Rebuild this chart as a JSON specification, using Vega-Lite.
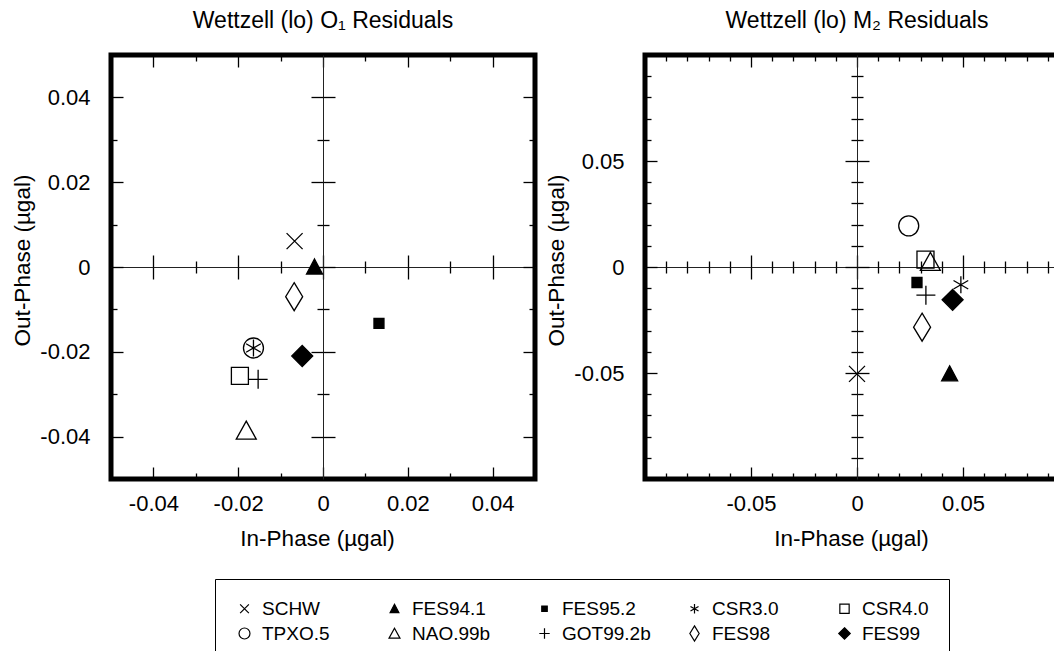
{
  "$schema": "https://vega.github.io/schema/vega-lite/v6.json",
  "padding": {"left": 8, "top": 7, "right": 0, "bottom": 0},
  "spacing": 3,
  "data": {"values": [
    {"panel": "O1", "model": "SCHW", "x": -0.0067, "y": 0.0061},
    {"panel": "O1", "model": "FES94.1", "x": -0.002, "y": 0.0},
    {"panel": "O1", "model": "FES95.2", "x": 0.0132, "y": -0.0133},
    {"panel": "O1", "model": "CSR3.0", "x": -0.0164, "y": -0.0191},
    {"panel": "O1", "model": "CSR4.0", "x": -0.0196, "y": -0.0257},
    {"panel": "O1", "model": "TPXO.5", "x": -0.0164, "y": -0.0191},
    {"panel": "O1", "model": "NAO.99b", "x": -0.0181, "y": -0.0386},
    {"panel": "O1", "model": "GOT99.2b", "x": -0.0153, "y": -0.0265},
    {"panel": "O1", "model": "FES98", "x": -0.0068, "y": -0.007},
    {"panel": "O1", "model": "FES99", "x": -0.0049, "y": -0.021},
    {"panel": "M2", "model": "SCHW", "x": 0.0, "y": -0.0504},
    {"panel": "M2", "model": "FES94.1", "x": 0.0437, "y": -0.0504},
    {"panel": "M2", "model": "FES95.2", "x": 0.0283, "y": -0.0073},
    {"panel": "M2", "model": "CSR3.0", "x": 0.049, "y": -0.0084},
    {"panel": "M2", "model": "CSR4.0", "x": 0.0323, "y": 0.0035},
    {"panel": "M2", "model": "TPXO.5", "x": 0.0244, "y": 0.0194},
    {"panel": "M2", "model": "NAO.99b", "x": 0.0346, "y": 0.0024},
    {"panel": "M2", "model": "GOT99.2b", "x": 0.0325, "y": -0.0133},
    {"panel": "M2", "model": "FES98", "x": 0.0307, "y": -0.0284},
    {"panel": "M2", "model": "FES99", "x": 0.0451, "y": -0.0155}
  ]},
  "resolve": {"scale": {"shape": "shared", "fill": "shared"}, "legend": {"shape": "shared", "fill": "shared"}},
  "hconcat": [
    {
      "width": 424, "height": 424,
      "title": {"text": "Wettzell (lo) O₁ Residuals", "frame": "group", "anchor": "middle", "baseline": "alphabetic", "offset": 3},
      "transform": [{"filter": "datum.panel == 'O1'"}],
      "resolve": {"axis": {"x": "independent", "y": "independent"}},
      "layer": [
        {
          "mark": {"type": "point", "stroke": "black", "strokeWidth": 1.3, "opacity": 1, "size": 400},
          "encoding": {
            "x": {"field": "x", "type": "quantitative", "scale": {"domain": [-0.05, 0.05], "nice": false, "zero": false},
              "axis": {"orient": "bottom", "values": [-0.04, -0.02, 0, 0.02, 0.04], "ticks": false, "tickSize": 0, "domain": false, "labelPadding": 14, "labelFlush": false, "labelOverlap": false,
                "labelExpr": "datum.value == 0 ? '0' : (datum.value < 0 ? '-' : '') + format(abs(datum.value), '.2f')",
                "title": "In-Phase (µgal)", "titleX": 206, "titleY": 66, "titleAlign": "center", "titleBaseline": "alphabetic"}},
            "y": {"field": "y", "type": "quantitative", "scale": {"domain": [-0.05, 0.05], "nice": false, "zero": false},
              "axis": {"orient": "left", "values": [-0.04, -0.02, 0, 0.02, 0.04], "ticks": false, "tickSize": 0, "domain": false, "labelPadding": 21, "labelFlush": false, "labelOverlap": false,
                "labelExpr": "datum.value == 0 ? '0' : (datum.value < 0 ? '-' : '') + format(abs(datum.value), '.2f')",
                "title": "Out-Phase (µgal)", "titleX": -89, "titleY": 205, "titleAngle": 270, "titleAlign": "center", "titleBaseline": "middle"}},
            "stroke": {"value": "black"},
            "shape": {"field": "model", "type": "nominal",
              "scale": {"domain": ["SCHW", "FES94.1", "FES95.2", "CSR3.0", "CSR4.0", "TPXO.5", "NAO.99b", "GOT99.2b", "FES98", "FES99"],
                "range": ["M-0.8,-0.8L0.8,0.8M-0.8,0.8L0.8,-0.8", "M0,-0.8L0.8,0.7L-0.8,0.7Z", "M-0.5,-0.5H0.5V0.5H-0.5Z", "M0,-0.85V0.85M-0.736,-0.425L0.736,0.425M-0.736,0.425L0.736,-0.425", "M-0.85,-0.85H0.85V0.85H-0.85Z", "circle", "M0,-0.95L1,0.85L-1,0.85Z", "M-0.95,0H0.95M0,-0.95V0.95", "M0,-1.4L0.85,0L0,1.4L-0.85,0Z", "M0,-1.05L1.05,0L0,1.05L-1.05,0Z"]},
              "legend": {"orient": "none", "legendX": 104, "legendY": 524, "direction": "horizontal", "columns": 5, "gridAlign": "all", "columnPadding": 34, "rowPadding": 4, "padding": 20, "strokeColor": "black", "labelFontSize": 19, "labelColor": "black", "symbolSize": 120, "symbolStrokeColor": "black", "symbolStrokeWidth": 1.2, "symbolOpacity": 1, "labelOffset": 8, "title": null,
                "symbolType": "circle", "encode": {"symbols": {"update": {"stroke": {"value": "black"}, "strokeWidth": {"value": 1.2}, "opacity": {"value": 1}}}}}},
            "fill": {"field": "model", "type": "nominal",
              "scale": {"domain": ["SCHW", "FES94.1", "FES95.2", "CSR3.0", "CSR4.0", "TPXO.5", "NAO.99b", "GOT99.2b", "FES98", "FES99"],
                "range": ["transparent", "black", "black", "transparent", "transparent", "transparent", "transparent", "transparent", "transparent", "black"]},
              "legend": {"orient": "none", "legendX": 104, "legendY": 524, "direction": "horizontal", "columns": 5, "gridAlign": "all", "columnPadding": 34, "rowPadding": 4, "padding": 20, "strokeColor": "black", "labelFontSize": 19, "labelColor": "black", "symbolSize": 120, "symbolStrokeColor": "black", "symbolStrokeWidth": 1.2, "symbolOpacity": 1, "labelOffset": 8, "title": null,
                "encode": {"symbols": {"update": {"stroke": {"value": "black"}, "strokeWidth": {"value": 1.2}, "opacity": {"value": 1}}}}}}
          }
        },
        {
          "mark": {"type": "point", "opacity": 0},
          "encoding": {
            "x": {"field": "x", "type": "quantitative", "scale": {"domain": [-0.05, 0.05], "nice": false, "zero": false},
              "axis": {"orient": "bottom", "values": [-0.04, -0.03, -0.02, -0.01, 0, 0.01, 0.02, 0.03, 0.04], "labels": false, "domain": false, "title": null,
                "tickSize": {"condition": {"test": "abs(round(datum.value*100)) % 2 == 0", "value": -12}, "value": -6}}},
            "y": {"field": "y", "type": "quantitative", "scale": {"domain": [-0.05, 0.05], "nice": false, "zero": false},
              "axis": {"orient": "left", "values": [-0.04, -0.03, -0.02, -0.01, 0, 0.01, 0.02, 0.03, 0.04], "labels": false, "domain": false, "title": null,
                "tickSize": {"condition": {"test": "abs(round(datum.value*100)) % 2 == 0", "value": -12}, "value": -6}}}
          }
        },
        {
          "mark": {"type": "point", "opacity": 0},
          "encoding": {
            "x": {"field": "x", "type": "quantitative", "scale": {"domain": [-0.05, 0.05], "nice": false, "zero": false},
              "axis": {"orient": "top", "values": [-0.04, -0.03, -0.02, -0.01, 0, 0.01, 0.02, 0.03, 0.04], "labels": false, "domain": false, "title": null,
                "tickSize": {"condition": {"test": "abs(round(datum.value*100)) % 2 == 0", "value": -12}, "value": -6}}},
            "y": {"field": "y", "type": "quantitative", "scale": {"domain": [-0.05, 0.05], "nice": false, "zero": false},
              "axis": {"orient": "right", "values": [-0.04, -0.03, -0.02, -0.01, 0, 0.01, 0.02, 0.03, 0.04], "labels": false, "domain": false, "title": null,
                "tickSize": {"condition": {"test": "abs(round(datum.value*100)) % 2 == 0", "value": -12}, "value": -6}}}
          }
        },
        {
          "mark": {"type": "point", "opacity": 0},
          "encoding": {
            "x": {"field": "x", "type": "quantitative", "scale": {"domain": [-0.05, 0.05], "nice": false, "zero": false},
              "axis": {"orient": "bottom", "offset": -212, "values": [-0.04, -0.03, -0.02, -0.01, 0, 0.01, 0.02, 0.03, 0.04], "labels": false, "domain": true, "title": null,
                "tickSize": {"condition": {"test": "abs(round(datum.value*100)) % 2 == 0", "value": 12}, "value": 6}}},
            "y": {"field": "y", "type": "quantitative", "scale": {"domain": [-0.05, 0.05], "nice": false, "zero": false},
              "axis": {"orient": "left", "offset": -212, "values": [-0.04, -0.03, -0.02, -0.01, 0, 0.01, 0.02, 0.03, 0.04], "labels": false, "domain": true, "title": null,
                "tickSize": {"condition": {"test": "abs(round(datum.value*100)) % 2 == 0", "value": 12}, "value": 6}}}
          }
        },
        {
          "mark": {"type": "point", "opacity": 0},
          "encoding": {
            "x": {"field": "x", "type": "quantitative", "scale": {"domain": [-0.05, 0.05], "nice": false, "zero": false},
              "axis": {"orient": "bottom", "offset": -212, "values": [-0.04, -0.03, -0.02, -0.01, 0, 0.01, 0.02, 0.03, 0.04], "labels": false, "domain": false, "title": null,
                "tickSize": {"condition": {"test": "abs(round(datum.value*100)) % 2 == 0", "value": -12}, "value": -6}}},
            "y": {"field": "y", "type": "quantitative", "scale": {"domain": [-0.05, 0.05], "nice": false, "zero": false},
              "axis": {"orient": "left", "offset": -212, "values": [-0.04, -0.03, -0.02, -0.01, 0, 0.01, 0.02, 0.03, 0.04], "labels": false, "domain": false, "title": null,
                "tickSize": {"condition": {"test": "abs(round(datum.value*100)) % 2 == 0", "value": -12}, "value": -6}}}
          }
        }
      ]
    },
    {
      "width": 424, "height": 424,
      "title": {"text": "Wettzell (lo) M₂ Residuals", "frame": "group", "anchor": "middle", "baseline": "alphabetic", "offset": 3},
      "transform": [{"filter": "datum.panel == 'M2'"}],
      "resolve": {"axis": {"x": "independent", "y": "independent"}},
      "layer": [
        {
          "mark": {"type": "point", "stroke": "black", "strokeWidth": 1.3, "opacity": 1, "size": 400},
          "encoding": {
            "x": {"field": "x", "type": "quantitative", "scale": {"domain": [-0.1, 0.1], "nice": false, "zero": false},
              "axis": {"orient": "bottom", "values": [-0.05, 0, 0.05], "ticks": false, "tickSize": 0, "domain": false, "labelPadding": 14, "labelFlush": false, "labelOverlap": false,
                "labelExpr": "datum.value == 0 ? '0' : (datum.value < 0 ? '-' : '') + format(abs(datum.value), '.2f')",
                "title": "In-Phase (µgal)", "titleX": 206, "titleY": 66, "titleAlign": "center", "titleBaseline": "alphabetic"}},
            "y": {"field": "y", "type": "quantitative", "scale": {"domain": [-0.1, 0.1], "nice": false, "zero": false},
              "axis": {"orient": "left", "values": [-0.05, 0, 0.05], "ticks": false, "tickSize": 0, "domain": false, "labelPadding": 21, "labelFlush": false, "labelOverlap": false,
                "labelExpr": "datum.value == 0 ? '0' : (datum.value < 0 ? '-' : '') + format(abs(datum.value), '.2f')",
                "title": "Out-Phase (µgal)", "titleX": -89, "titleY": 205, "titleAngle": 270, "titleAlign": "center", "titleBaseline": "middle"}},
            "stroke": {"value": "black"},
            "shape": {"field": "model", "type": "nominal",
              "scale": {"domain": ["SCHW", "FES94.1", "FES95.2", "CSR3.0", "CSR4.0", "TPXO.5", "NAO.99b", "GOT99.2b", "FES98", "FES99"],
                "range": ["M-0.8,-0.8L0.8,0.8M-0.8,0.8L0.8,-0.8", "M0,-0.8L0.8,0.7L-0.8,0.7Z", "M-0.5,-0.5H0.5V0.5H-0.5Z", "M0,-0.85V0.85M-0.736,-0.425L0.736,0.425M-0.736,0.425L0.736,-0.425", "M-0.85,-0.85H0.85V0.85H-0.85Z", "circle", "M0,-0.95L1,0.85L-1,0.85Z", "M-0.95,0H0.95M0,-0.95V0.95", "M0,-1.4L0.85,0L0,1.4L-0.85,0Z", "M0,-1.05L1.05,0L0,1.05L-1.05,0Z"]},
              "legend": {"orient": "none", "legendX": 104, "legendY": 524, "direction": "horizontal", "columns": 5, "gridAlign": "all", "columnPadding": 34, "rowPadding": 4, "padding": 20, "strokeColor": "black", "labelFontSize": 19, "labelColor": "black", "symbolSize": 120, "symbolStrokeColor": "black", "symbolStrokeWidth": 1.2, "symbolOpacity": 1, "labelOffset": 8, "title": null,
                "encode": {"symbols": {"update": {"stroke": {"value": "black"}, "strokeWidth": {"value": 1.2}, "opacity": {"value": 1}}}}}},
            "fill": {"field": "model", "type": "nominal",
              "scale": {"domain": ["SCHW", "FES94.1", "FES95.2", "CSR3.0", "CSR4.0", "TPXO.5", "NAO.99b", "GOT99.2b", "FES98", "FES99"],
                "range": ["transparent", "black", "black", "transparent", "transparent", "transparent", "transparent", "transparent", "transparent", "black"]},
              "legend": {"orient": "none", "legendX": 104, "legendY": 524, "direction": "horizontal", "columns": 5, "gridAlign": "all", "columnPadding": 34, "rowPadding": 4, "padding": 20, "strokeColor": "black", "labelFontSize": 19, "labelColor": "black", "symbolSize": 120, "symbolStrokeColor": "black", "symbolStrokeWidth": 1.2, "symbolOpacity": 1, "labelOffset": 8, "title": null,
                "encode": {"symbols": {"update": {"stroke": {"value": "black"}, "strokeWidth": {"value": 1.2}, "opacity": {"value": 1}}}}}}
          }
        },
        {
          "mark": {"type": "point", "opacity": 0},
          "encoding": {
            "x": {"field": "x", "type": "quantitative", "scale": {"domain": [-0.1, 0.1], "nice": false, "zero": false},
              "axis": {"orient": "bottom", "values": [-0.09, -0.08, -0.07, -0.06, -0.05, -0.04, -0.03, -0.02, -0.01, 0, 0.01, 0.02, 0.03, 0.04, 0.05, 0.06, 0.07, 0.08, 0.09], "labels": false, "domain": false, "title": null,
                "tickSize": {"condition": {"test": "abs(round(datum.value*100)) % 5 == 0", "value": -12}, "value": -6}}},
            "y": {"field": "y", "type": "quantitative", "scale": {"domain": [-0.1, 0.1], "nice": false, "zero": false},
              "axis": {"orient": "left", "values": [-0.09, -0.08, -0.07, -0.06, -0.05, -0.04, -0.03, -0.02, -0.01, 0, 0.01, 0.02, 0.03, 0.04, 0.05, 0.06, 0.07, 0.08, 0.09], "labels": false, "domain": false, "title": null,
                "tickSize": {"condition": {"test": "abs(round(datum.value*100)) % 5 == 0", "value": -12}, "value": -6}}}
          }
        },
        {
          "mark": {"type": "point", "opacity": 0},
          "encoding": {
            "x": {"field": "x", "type": "quantitative", "scale": {"domain": [-0.1, 0.1], "nice": false, "zero": false},
              "axis": {"orient": "top", "values": [-0.09, -0.08, -0.07, -0.06, -0.05, -0.04, -0.03, -0.02, -0.01, 0, 0.01, 0.02, 0.03, 0.04, 0.05, 0.06, 0.07, 0.08, 0.09], "labels": false, "domain": false, "title": null,
                "tickSize": {"condition": {"test": "abs(round(datum.value*100)) % 5 == 0", "value": -12}, "value": -6}}},
            "y": {"field": "y", "type": "quantitative", "scale": {"domain": [-0.1, 0.1], "nice": false, "zero": false},
              "axis": {"orient": "right", "values": [-0.09, -0.08, -0.07, -0.06, -0.05, -0.04, -0.03, -0.02, -0.01, 0, 0.01, 0.02, 0.03, 0.04, 0.05, 0.06, 0.07, 0.08, 0.09], "labels": false, "domain": false, "title": null,
                "tickSize": {"condition": {"test": "abs(round(datum.value*100)) % 5 == 0", "value": -12}, "value": -6}}}
          }
        },
        {
          "mark": {"type": "point", "opacity": 0},
          "encoding": {
            "x": {"field": "x", "type": "quantitative", "scale": {"domain": [-0.1, 0.1], "nice": false, "zero": false},
              "axis": {"orient": "bottom", "offset": -212, "values": [-0.09, -0.08, -0.07, -0.06, -0.05, -0.04, -0.03, -0.02, -0.01, 0, 0.01, 0.02, 0.03, 0.04, 0.05, 0.06, 0.07, 0.08, 0.09], "labels": false, "domain": true, "title": null,
                "tickSize": {"condition": {"test": "abs(round(datum.value*100)) % 5 == 0", "value": 12}, "value": 6}}},
            "y": {"field": "y", "type": "quantitative", "scale": {"domain": [-0.1, 0.1], "nice": false, "zero": false},
              "axis": {"orient": "left", "offset": -212, "values": [-0.09, -0.08, -0.07, -0.06, -0.05, -0.04, -0.03, -0.02, -0.01, 0, 0.01, 0.02, 0.03, 0.04, 0.05, 0.06, 0.07, 0.08, 0.09], "labels": false, "domain": true, "title": null,
                "tickSize": {"condition": {"test": "abs(round(datum.value*100)) % 5 == 0", "value": 12}, "value": 6}}}
          }
        },
        {
          "mark": {"type": "point", "opacity": 0},
          "encoding": {
            "x": {"field": "x", "type": "quantitative", "scale": {"domain": [-0.1, 0.1], "nice": false, "zero": false},
              "axis": {"orient": "bottom", "offset": -212, "values": [-0.09, -0.08, -0.07, -0.06, -0.05, -0.04, -0.03, -0.02, -0.01, 0, 0.01, 0.02, 0.03, 0.04, 0.05, 0.06, 0.07, 0.08, 0.09], "labels": false, "domain": false, "title": null,
                "tickSize": {"condition": {"test": "abs(round(datum.value*100)) % 5 == 0", "value": -12}, "value": -6}}},
            "y": {"field": "y", "type": "quantitative", "scale": {"domain": [-0.1, 0.1], "nice": false, "zero": false},
              "axis": {"orient": "left", "offset": -212, "values": [-0.09, -0.08, -0.07, -0.06, -0.05, -0.04, -0.03, -0.02, -0.01, 0, 0.01, 0.02, 0.03, 0.04, 0.05, 0.06, 0.07, 0.08, 0.09], "labels": false, "domain": false, "title": null,
                "tickSize": {"condition": {"test": "abs(round(datum.value*100)) % 5 == 0", "value": -12}, "value": -6}}}
          }
        }
      ]
    }
  ],
  "config": {
    "font": "Liberation Sans",
    "view": {"stroke": "black", "strokeWidth": 5},
    "title": {"fontSize": 23, "fontWeight": "normal", "color": "black", "font": "Liberation Sans"},
    "axis": {"grid": false, "labelFont": "Liberation Sans", "labelFontSize": 22, "labelColor": "black", "titleFont": "Liberation Sans", "titleFontSize": 22.5, "titleFontWeight": "normal", "titleColor": "black", "tickColor": "black", "tickWidth": 1.3, "domainColor": "#222", "domainWidth": 1, "minExtent": 0, "maxExtent": 1000},
    "legend": {"labelFont": "Liberation Sans"}
  }
}
